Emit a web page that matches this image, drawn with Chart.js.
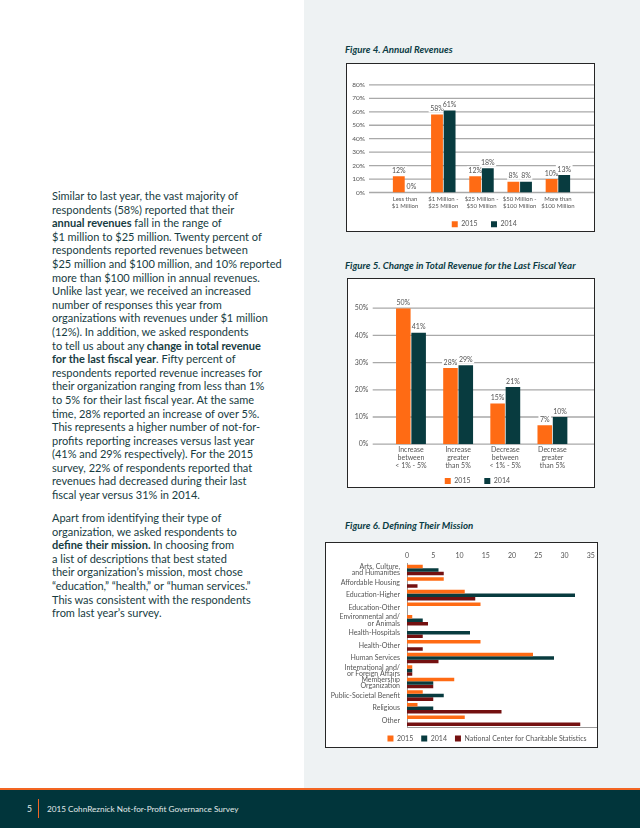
<!DOCTYPE html>
<html>
<head>
<meta charset="utf-8">
<script src="https://cdn.jsdelivr.net/npm/chart.js@4.4.1/dist/chart.umd.min.js"></script>
<style>
  body { margin: 0; width: 640px; height: 828px; position: relative; overflow: hidden; background: #fff; font-family: Lato, sans-serif; }
  #panel { position: absolute; left: 304px; top: 0; width: 336px; height: 788px; background: #eef2f3; }
  .copy { position: absolute; left: 52px; font-size: 11px; line-height: 13.6px; color: #173c42; white-space: nowrap; }
  .copy b { font-weight: 700; }
  .fig { position: absolute; left: 345px; font-size: 9.7px; line-height: 10px; font-weight: 700; font-style: italic; color: #0b3c44; white-space: nowrap; }
  .box { position: absolute; background: #fff; border: 1.6px solid #262626; box-sizing: border-box; }
  canvas { position: absolute; }
  #footer { position: absolute; left: 0; top: 788px; width: 640px; height: 40px; background: #01353b; border-top: 2px solid #f26522; box-sizing: border-box; color: #e2eaea; }
  #footer .pg { position: absolute; left: 27px; top: 14px; font-size: 8.5px; line-height: 10px; }
  #footer .sep { position: absolute; left: 38px; top: 9px; width: 1px; height: 19px; background: #f26522; }
  #footer .ft { position: absolute; left: 47px; top: 14px; font-size: 8.2px; line-height: 10px; white-space: nowrap; }
</style>
</head>
<body>
<div id="panel"></div>

<div class="copy" style="top:189px">
Similar to last year, the vast majority of<br>
respondents (58%) reported that their<br>
<b>annual revenues</b> fall in the range of<br>
$1 million to $25 million. Twenty percent of<br>
respondents reported revenues between<br>
$25 million and $100 million, and 10% reported<br>
more than $100 million in annual revenues.<br>
Unlike last year, we received an increased<br>
number of responses this year from<br>
organizations with revenues under $1 million<br>
(12%). In addition, we asked respondents<br>
to tell us about any <b>change in total revenue</b><br>
<b>for the last fiscal year</b>. Fifty percent of<br>
respondents reported revenue increases for<br>
their organization ranging from less than 1%<br>
to 5% for their last fiscal year. At the same<br>
time, 28% reported an increase of over 5%.<br>
This represents a higher number of not-for-<br>
profits reporting increases versus last year<br>
(41% and 29% respectively). For the 2015<br>
survey, 22% of respondents reported that<br>
revenues had decreased during their last<br>
fiscal year versus 31% in 2014.
</div>

<div class="copy" style="top:511px">
Apart from identifying their type of<br>
organization, we asked respondents to<br>
<b>define their mission.</b> In choosing from<br>
a list of descriptions that best stated<br>
their organization’s mission, most chose<br>
“education,” “health,” or “human services.”<br>
This was consistent with the respondents<br>
from last year’s survey.
</div>

<div class="fig" style="top:44px">Figure 4. Annual Revenues</div>
<div class="box" style="left:346px; top:63px; width:249px; height:169px"></div>
<canvas id="revChart" width="260" height="181" style="left:340px; top:60px"></canvas>

<div class="fig" style="top:260px">Figure 5. Change in Total Revenue for the Last Fiscal Year</div>
<div class="box" style="left:347px; top:278px; width:248px; height:210px"></div>
<canvas id="changeChart" width="260" height="216" style="left:340px; top:285px"></canvas>

<div class="fig" style="top:520px">Figure 6. Defining Their Mission</div>
<div class="box" style="left:325px; top:542px; width:273px; height:206px"></div>
<canvas id="missionChart" width="285" height="207" style="left:320px; top:545px"></canvas>

<div id="footer">
  <span class="pg">5</span><span class="sep"></span>
  <span class="ft">2015 CohnReznick Not-for-Profit Governance Survey</span>
</div>

<script>
// Figure 4 - annual revenues
var revLabels = [['Less than', '$1 Million'], ['$1 Million -', '$25 Million'], ['$25 Million -', '$50 Million'],
                 ['$50 Million -', '$100 Million'], ['More than', '$100 Million']];
var rev2015 = [12, 58, 12, 8, 10];
var rev2014 = [0, 61, 18, 8, 13];
var revTicks = ['0%', '10%', '20%', '30%', '40%', '50%', '60%', '70%', '80%'];

// Figure 5 - change in total revenue
var changeLabels = [['Increase', 'between', '< 1% - 5%'], ['Increase', 'greater', 'than 5%'],
                    ['Decrease', 'between', '< 1% - 5%'], ['Decrease', 'greater', 'than 5%']];
var change2015 = [50, 28, 15, 7];
var change2014 = [41, 29, 21, 10];
var changeTicks = ['0%', '10%', '20%', '30%', '40%', '50%'];

// Figure 6 - mission
var missionLabels = [['Arts, Culture,', 'and Humanities'], 'Affordable Housing', 'Education-Higher', 'Education-Other',
                     ['Environmental and/', 'or Animals'], 'Health-Hospitals', 'Health-Other', 'Human Services',
                     ['International and/', 'or Foreign Affairs'], ['Membership', 'Organization'],
                     'Public-Societal Benefit', 'Religious', 'Other'];
var mission2015 = [3, 7, 11, 14, 1, 0, 14, 24, 1, 9, 3, 2, 11];
var mission2014 = [6, 0, 32, 0, 3, 12, 0, 28, 1, 5, 7, 5, 0];
var missionNccs = [7, 2, 13, 0, 4, 3, 3, 6, 1, 5, 5, 18, 33];
var missionTicks = ['0', '5', '10', '15', '20', '25', '30', '35'];

var orange = '#ff6b14';
var teal = '#083b3f';
var maroon = '#741010';

Chart.defaults.font.family = 'Lato, sans-serif';
Chart.defaults.font.size = 7;
Chart.defaults.color = '#555';
Chart.defaults.animation = false;

// horizontal gridlines that run past the plot area, like the original
var fullGrid = {
    id: 'fullGrid',
    beforeDatasetsDraw: function(chart, args, opts) {
        var y = chart.scales.y, area = chart.chartArea, ctx = chart.ctx;
        ctx.save();
        ctx.strokeStyle = opts.color;
        ctx.lineWidth = opts.width;
        y.ticks.forEach(function(t) {
            var py = y.getPixelForValue(t.value);
            ctx.beginPath();
            ctx.moveTo(area.left - opts.before, py);
            ctx.lineTo(area.right + opts.after, py);
            ctx.stroke();
        });
        ctx.restore();
    }
};

// percent labels above bars, knocked out of the gridlines
var valueLabels = {
    id: 'valueLabels',
    beforeDatasetsDraw: function(chart) {
        var ctx = chart.ctx;
        ctx.save();
        ctx.font = '7px Lato, sans-serif';
        ctx.textAlign = 'center';
        ctx.textBaseline = 'bottom';
        chart.data.datasets.forEach(function(ds, i) {
            chart.getDatasetMeta(i).data.forEach(function(bar, j) {
                var text = ds.data[j] + '%';
                var w = ctx.measureText(text).width;
                var ty = bar.y - 2;
                ctx.fillStyle = '#fff';
                ctx.fillRect(bar.x - w / 2 - 1.5, ty - 8, w + 3, 8);
                ctx.fillStyle = '#555';
                ctx.fillText(text, bar.x, ty);
            });
        });
        ctx.restore();
    }
};

// the legends sit a little off the canvas centre in the original
var legendShift = {
    id: 'legendShift',
    afterLayout: function(chart, args, opts) {
        var lg = chart.legend;
        lg.left += opts.dx;
        lg.right += opts.dx;
        lg.top += opts.dy;
        lg.bottom += opts.dy;
    }
};

new Chart(document.getElementById('revChart'), {
    type: 'bar',
    data: {
        labels: revLabels,
        datasets: [
            {label: '2015', data: rev2015, backgroundColor: orange},
            {label: '2014', data: rev2014, backgroundColor: teal}
        ]
    },
    options: {
        responsive: false,
        layout: {padding: {left: 10, right: 23, top: 12.3, bottom: 0}},
        datasets: {bar: {categoryPercentage: 0.66, barPercentage: 0.94}},
        scales: {
            x: {
                grid: {display: false, drawTicks: false},
                border: {display: false},
                ticks: {padding: 3.2, maxRotation: 0, autoSkip: false, font: {size: 6, lineHeight: 1.17}},
                afterFit: function(s) { s.height = 18; }
            },
            y: {
                min: 0, max: 80,
                grid: {display: false, drawTicks: false},
                border: {display: false},
                ticks: {stepSize: 10, padding: 21, font: {size: 6.5}, callback: function(v, i) { return revTicks[i]; }},
                afterFit: function(s) { s.width = 36; }
            }
        },
        plugins: {
            legend: {position: 'bottom', labels: {boxWidth: 6, boxHeight: 6, padding: 13.5, font: {size: 7}}},
            tooltip: {enabled: false},
            fullGrid: {before: 17, after: 17, color: '#a9a9a9', width: 1.3},
            legendShift: {dx: 20.75, dy: -3.3}
        }
    },
    plugins: [fullGrid, valueLabels, legendShift]
});

new Chart(document.getElementById('changeChart'), {
    type: 'bar',
    data: {
        labels: changeLabels,
        datasets: [
            {label: '2015', data: change2015, backgroundColor: orange},
            {label: '2014', data: change2014, backgroundColor: teal}
        ]
    },
    options: {
        responsive: false,
        layout: {padding: {left: 12, right: 24, top: 12.7, bottom: 0}},
        datasets: {bar: {categoryPercentage: 0.65, barPercentage: 0.95}},
        scales: {
            x: {
                grid: {display: false, drawTicks: false},
                border: {display: false},
                ticks: {padding: 1.7, maxRotation: 0, autoSkip: false, font: {size: 7, lineHeight: 1.14}},
                afterFit: function(s) { s.height = 26; }
            },
            y: {
                min: 0, max: 50,
                grid: {display: false, drawTicks: false},
                border: {display: false},
                ticks: {stepSize: 10, padding: 19, callback: function(v, i) { return changeTicks[i]; }},
                afterFit: function(s) { s.width = 35.4; }
            }
        },
        plugins: {
            legend: {position: 'bottom', labels: {boxWidth: 6, boxHeight: 6, padding: 13.8, font: {size: 7}}},
            tooltip: {enabled: false},
            fullGrid: {before: 14.7, after: 18, color: '#a9a9a9', width: 1.3},
            legendShift: {dx: 13.4, dy: -6.6}
        }
    },
    plugins: [fullGrid, valueLabels, legendShift]
});

new Chart(document.getElementById('missionChart'), {
    type: 'bar',
    data: {
        labels: missionLabels,
        datasets: [
            {label: '2015', data: mission2015, backgroundColor: orange},
            {label: '2014', data: mission2014, backgroundColor: teal},
            {label: 'National Center for Charitable Statistics', data: missionNccs, backgroundColor: maroon}
        ]
    },
    options: {
        responsive: false,
        indexAxis: 'y',
        layout: {padding: {left: 10, right: 9, top: 0, bottom: 0}},
        datasets: {bar: {categoryPercentage: 0.84, barPercentage: 1}},
        scales: {
            x: {
                position: 'top',
                min: 0, max: 36,
                grid: {display: false, drawTicks: false},
                border: {display: false},
                ticks: {stepSize: 5, includeBounds: false, padding: 4.25,
                        callback: function(v, i) { return missionTicks[i]; }},
                afterFit: function(s) { s.height = 18.75; }
            },
            x2: {
                position: 'bottom',
                type: 'linear',
                grid: {display: false, drawTicks: false},
                border: {display: true, color: '#9a9a9a', width: 1},
                ticks: {display: false},
                afterFit: function(s) { s.height = 0; }
            },
            y: {
                grid: {display: false, drawTicks: false},
                border: {display: true, color: '#9a9a9a', width: 1},
                ticks: {padding: 7, autoSkip: false, font: {size: 7, lineHeight: 0.9}},
                afterFit: function(s) { s.width = 77; }
            }
        },
        plugins: {
            legend: {position: 'bottom', labels: {boxWidth: 6, boxHeight: 6, padding: 8, font: {size: 7}}},
            tooltip: {enabled: false},
            legendShift: {dx: 24, dy: 0}
        }
    },
    plugins: [legendShift]
});
</script>
</body>
</html>
